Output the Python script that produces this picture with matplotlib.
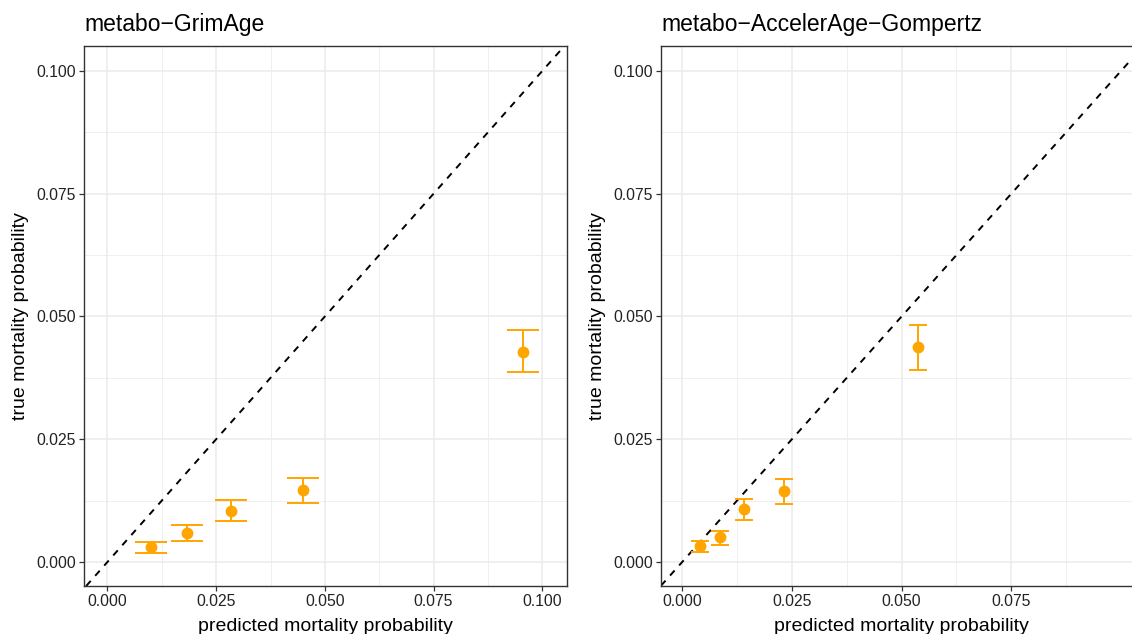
import matplotlib
matplotlib.use("Agg")
import matplotlib.pyplot as plt
import numpy as np

plt.rcParams['font.family'] = ['Liberation Sans', 'DejaVu Sans']

titles = ["metabo\u2212GrimAge", "metabo\u2212AccelerAge\u2212Gompertz"]

# panel 1: metabo-GrimAge
pred_grim = [0.0099, 0.0182, 0.0283, 0.0449, 0.0956]
true_grim = [0.0031, 0.0059, 0.01045, 0.0147, 0.0428]
lo_grim = [0.0018, 0.0043, 0.0084, 0.0120, 0.0386]
hi_grim = [0.0041, 0.0075, 0.0127, 0.0171, 0.0472]

# panel 2: metabo-AccelerAge-Gompertz
pred_acc = [0.0040, 0.0085, 0.01405, 0.0232, 0.0538]
true_acc = [0.0032, 0.0050, 0.0108, 0.0145, 0.0437]
lo_acc = [0.0020, 0.0035, 0.0086, 0.0119, 0.0392]
hi_acc = [0.0043, 0.0064, 0.0129, 0.0169, 0.0482]

x_ticks = [0.0, 0.025, 0.05, 0.075, 0.1]
x_ticks_right = [0.0, 0.025, 0.05, 0.075]
y_ticks = [0.0, 0.025, 0.05, 0.075, 0.1]
minor = [0.0125, 0.0375, 0.0625, 0.0875]

W, H = 1132, 634
fig = plt.figure(figsize=(W / 100, H / 100), dpi=100)

def fx(px):
    return px / W

def fy(py):
    return 1 - py / H

ax1 = fig.add_axes([fx(84), fy(586), fx(567) - fx(84), fy(46) - fy(586)])
ax2 = fig.add_axes([fx(661), fy(586), fx(1142) - fx(661), fy(46) - fy(586)])

orange = "#FFA500"
panels = [
    (ax1, pred_grim, true_grim, lo_grim, hi_grim, (-0.0054, 0.1057), x_ticks, 11.8),
    (ax2, pred_acc, true_acc, lo_acc, hi_acc, (-0.00484, 0.1048), x_ticks_right, 6.3),
]

for (ax, px, py, lo, hi, xl, xt, cap), title in zip(panels, titles):
    ax.set_xlim(*xl)
    ax.set_ylim(-0.0049, 0.1051)
    ax.set_xticks(xt)
    ax.set_yticks(y_ticks)
    ax.set_xticks(minor, minor=True)
    ax.set_yticks(minor, minor=True)
    ax.set_xticklabels([f"{v:.3f}" for v in xt])
    ax.set_yticklabels([f"{v:.3f}" for v in y_ticks])
    ax.tick_params(which='minor', length=0)
    ax.tick_params(which='major', length=3.5, width=0.9, color='#333333',
                   labelsize=11.3, labelcolor='#222222', pad=2.5)
    ax.grid(which='major', color='#EBEBEB', lw=1.1)
    ax.grid(which='minor', color='#EBEBEB', lw=0.55)
    ax.set_axisbelow(True)
    for s in ax.spines.values():
        s.set_color('#333333')
        s.set_linewidth(1.0)
    # diagonal reference line
    ax.axline((0, 0), slope=1, color='black', ls=(0, (3.5, 3.5)), lw=1.4, zorder=2)
    py_arr = np.array(py)
    yerr = [py_arr - np.array(lo), np.array(hi) - py_arr]
    ax.errorbar(px, py, yerr=yerr, fmt='o', color=orange, ms=7.5,
                elinewidth=1.4, capsize=cap, capthick=1.4, zorder=3)
    ax.set_xlabel("predicted mortality probability", fontsize=14, labelpad=6)
    ax.set_ylabel("true mortality probability", fontsize=14, labelpad=5)
    ax.set_title(title, loc='left', fontsize=16.5, pad=11)

ax2.spines['right'].set_visible(False)

fig.savefig("out.png", dpi=100)
